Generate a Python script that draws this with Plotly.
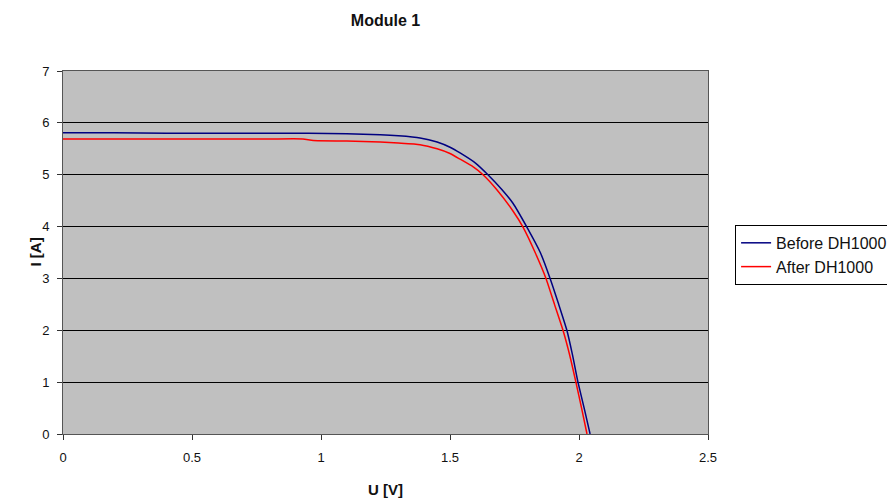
import plotly.graph_objects as go

# Before DH1000 (blue)
u_before = [0.0, 0.2, 0.4, 0.6, 0.8, 0.95, 1.1, 1.23, 1.3, 1.384, 1.45, 1.5, 1.539, 1.6, 1.647, 1.7, 1.744, 1.798, 1.85, 1.888, 1.92, 1.953, 1.975, 1.996, 2.02, 2.043]
i_before = [5.81, 5.81, 5.80, 5.80, 5.80, 5.80, 5.79, 5.77, 5.75, 5.71, 5.63, 5.53, 5.42, 5.22, 5.00, 4.72, 4.45, 3.99, 3.50, 3.00, 2.52, 2.00, 1.52, 1.00, 0.50, 0.0]
# After DH1000 (red)
u_after = [0.0, 0.2, 0.4, 0.6, 0.8, 0.93, 0.97, 1.1, 1.23, 1.3, 1.384, 1.45, 1.5, 1.539, 1.59, 1.628, 1.68, 1.744, 1.783, 1.83, 1.872, 1.905, 1.938, 1.965, 1.988, 2.01, 2.031]
i_after = [5.69, 5.69, 5.69, 5.69, 5.69, 5.69, 5.66, 5.65, 5.63, 5.61, 5.58, 5.50, 5.41, 5.30, 5.15, 5.00, 4.72, 4.30, 3.99, 3.50, 3.00, 2.50, 2.00, 1.50, 1.00, 0.50, 0.0]

x_ticks = [0, 0.5, 1, 1.5, 2, 2.5]
y_ticks = [0, 1, 2, 3, 4, 5, 6, 7]

fig = go.Figure()
fig.add_trace(go.Scatter(x=u_before, y=i_before, mode="lines", name="Before DH1000",
                         line=dict(color="#000080", width=1.5, shape="spline", smoothing=0.5)))
fig.add_trace(go.Scatter(x=u_after, y=i_after, mode="lines", name="After DH1000",
                         line=dict(color="#FF0000", width=1.5, shape="spline", smoothing=0.5)))

font_family = "Liberation Sans, Arial, sans-serif"
fig.update_layout(
    width=895, height=499,
    margin=dict(l=55, r=195, t=63, b=73, autoexpand=False),
    paper_bgcolor="white",
    plot_bgcolor="#C0C0C0",
    font=dict(family=font_family, size=13, color="#111111"),
    title=dict(text="<b>Module 1</b>", x=0.5, xanchor="center", y=0.976, yanchor="middle",
               xref="paper", font=dict(size=16, family=font_family)),
    showlegend=True,
    legend=dict(x=1.042, y=0.576, xanchor="left", yanchor="top",
                bgcolor="white", bordercolor="black", borderwidth=1,
                font=dict(size=16, family=font_family),
                tracegroupgap=0, itemwidth=30),
    xaxis=dict(range=[0, 2.5], tickvals=x_ticks, ticktext=[str(t) for t in x_ticks],
               showgrid=False, zeroline=False, showline=True, linecolor="#555555",
               ticks="outside", ticklen=5, tickcolor="#333333", mirror=True,
               ticklabelstandoff=6,
               title=dict(text="<b>U [V]</b>", standoff=20, font=dict(size=15))),
    yaxis=dict(range=[0, 7], tickvals=y_ticks, showgrid=True, gridcolor="black", gridwidth=1,
               zeroline=False, showline=True, linecolor="#555555",
               ticks="outside", ticklen=5, tickcolor="#333333", mirror=True,
               ticklabelstandoff=5),
    annotations=[dict(text="<b>I [A]</b>", xref="paper", yref="paper", x=-0.0434, y=0.5,
                      xanchor="center", yanchor="middle", textangle=-90, showarrow=False,
                      font=dict(size=15, family=font_family))],
)

fig.write_html("out.html")
